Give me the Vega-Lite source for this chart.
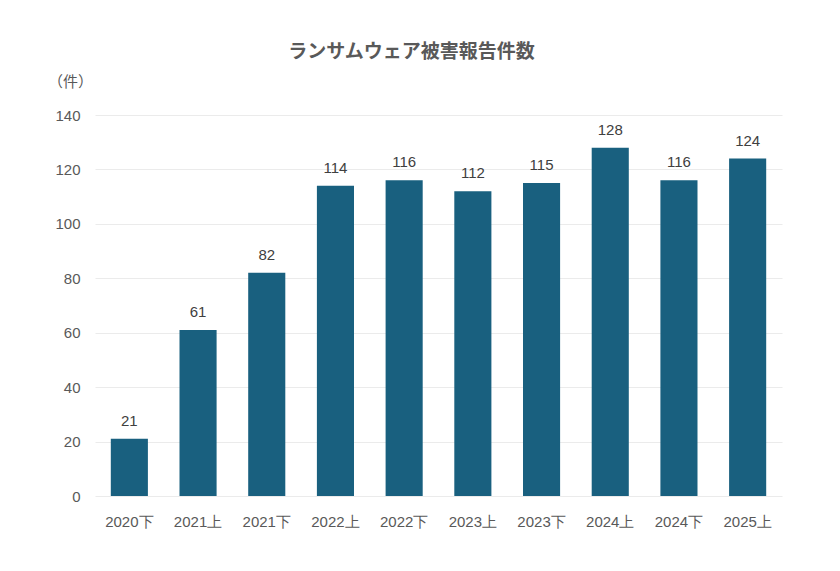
{
  "$schema": "https://vega.github.io/schema/vega-lite/v6.json",
  "autosize": "none",
  "width": 687,
  "height": 381,
  "padding": {"left": 95, "top": 115, "right": 58, "bottom": 75},
  "background": "white",
  "title": {
    "text": "ランサムウェア被害報告件数",
    "font": "Noto Sans CJK JP",
    "fontSize": 19,
    "fontWeight": "bold",
    "color": "#595959",
    "anchor": "middle",
    "dx": -27,
    "offset": 12
  },
  "data": {
    "values": [
      {"period": "2020下", "count": 21},
      {"period": "2021上", "count": 61},
      {"period": "2021下", "count": 82},
      {"period": "2022上", "count": 114},
      {"period": "2022下", "count": 116},
      {"period": "2023上", "count": 112},
      {"period": "2023下", "count": 115},
      {"period": "2024上", "count": 128},
      {"period": "2024下", "count": 116},
      {"period": "2025上", "count": 124}
    ]
  },
  "encoding": {
    "x": {
      "field": "period",
      "type": "nominal",
      "sort": null,
      "title": null,
      "scale": {"paddingInner": 0.46, "paddingOuter": 0.23},
      "axis": {
        "labelAngle": 0,
        "labelFont": "Liberation Sans",
        "labelFontSize": 15,
        "labelColor": "#595959",
        "labelPadding": 18,
        "ticks": false,
        "domain": false
      }
    },
    "y": {
      "field": "count",
      "type": "quantitative",
      "scale": {"domain": [0, 140]},
      "axis": {
        "values": [0, 20, 40, 60, 80, 100, 120, 140],
        "title": "（件）",
        "titleAngle": 0,
        "titleFont": "Noto Sans CJK JP",
        "titleFontSize": 15,
        "titleFontWeight": "normal",
        "titleColor": "#595959",
        "titleX": -25,
        "titleY": -26,
        "labelFont": "Liberation Sans",
        "labelFontSize": 15,
        "labelColor": "#595959",
        "labelPadding": 15,
        "ticks": false,
        "domain": false,
        "gridColor": "#ebebeb",
        "gridWidth": 1
      }
    }
  },
  "layer": [
    {"mark": {"type": "bar", "color": "#19607f"}},
    {
      "mark": {
        "type": "text",
        "dy": -18,
        "font": "Liberation Sans",
        "fontSize": 15,
        "color": "#404040"
      },
      "encoding": {"text": {"field": "count", "type": "quantitative"}}
    }
  ],
  "config": {"view": {"stroke": null}}
}
